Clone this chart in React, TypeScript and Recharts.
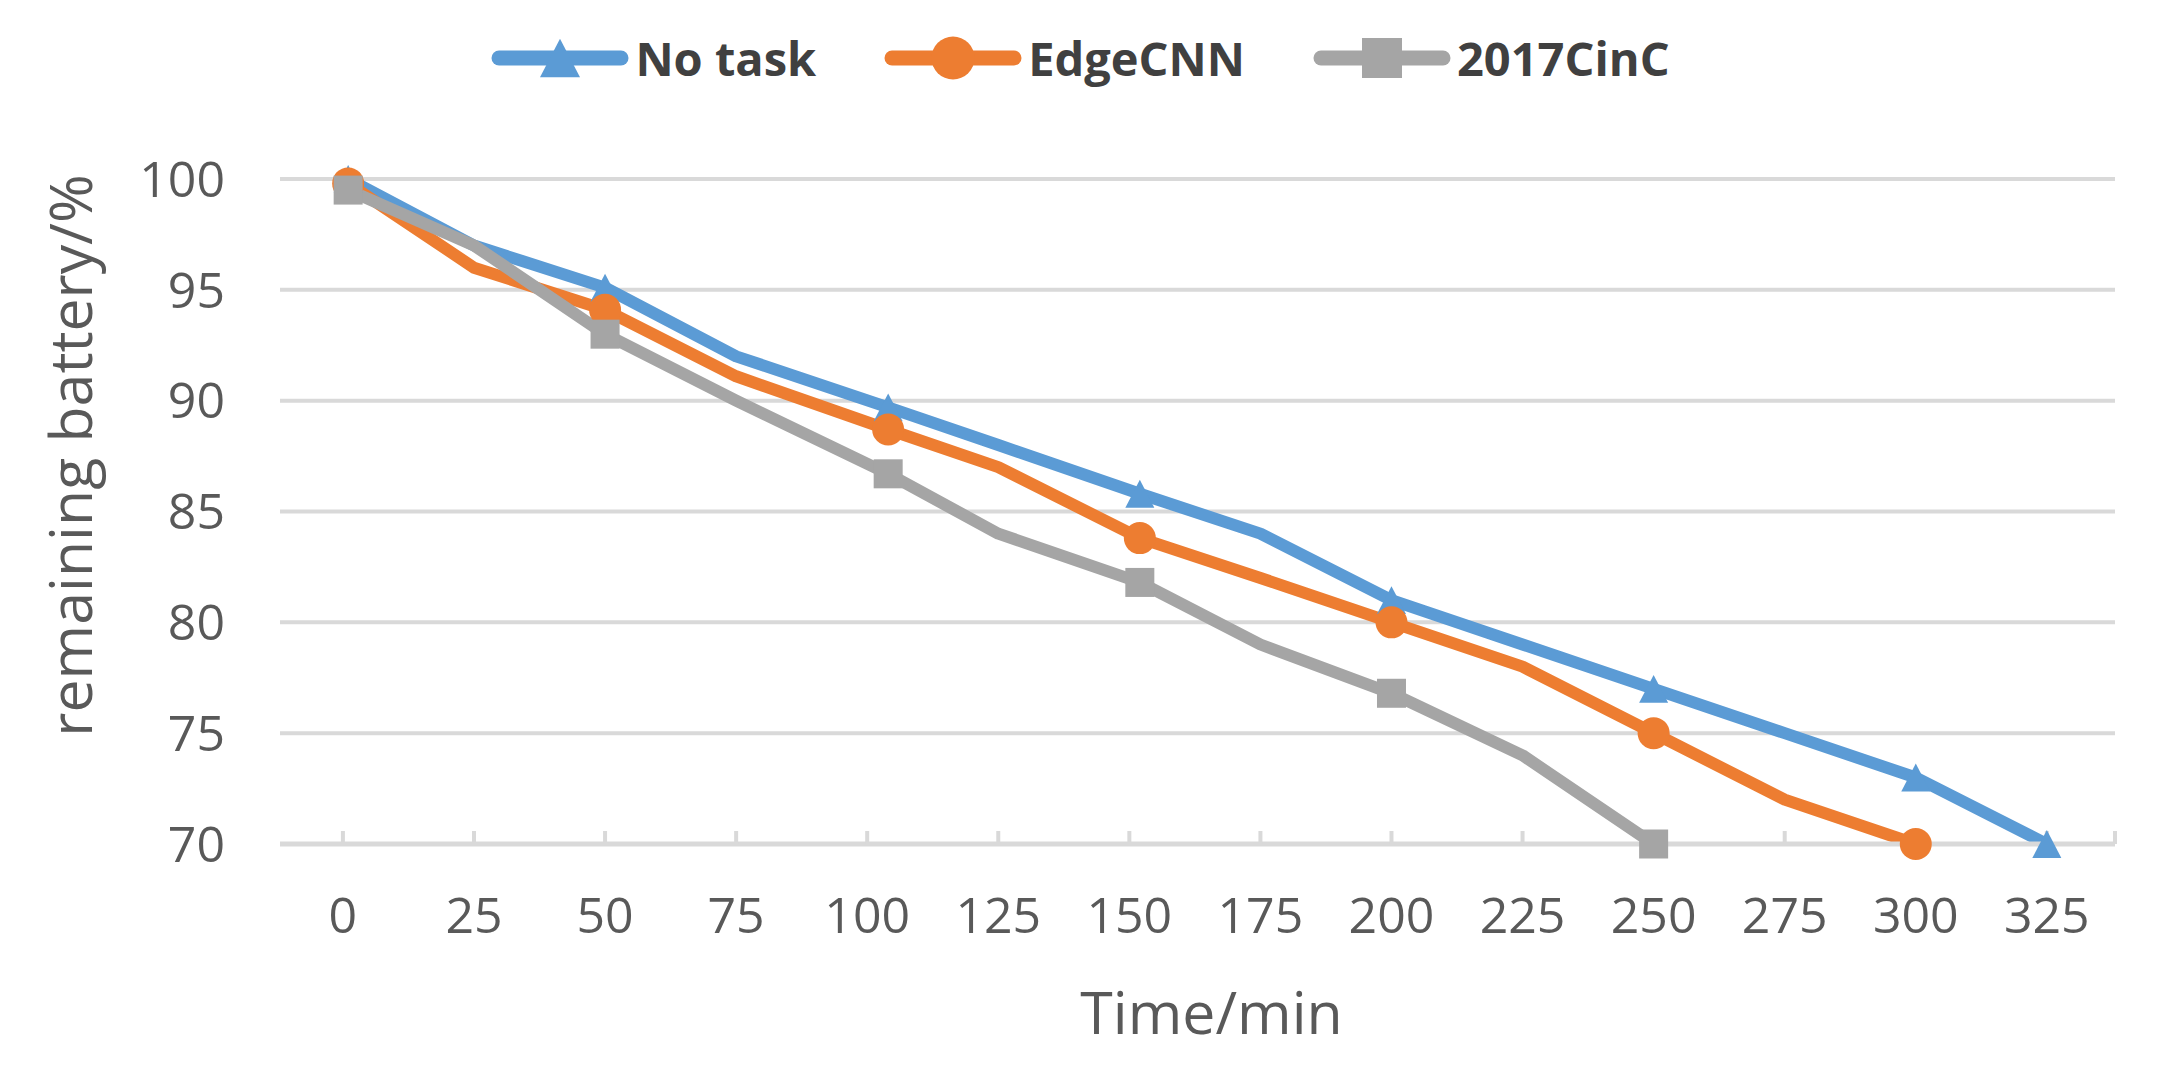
import { CartesianGrid, Legend, Line, LineChart, XAxis, YAxis } from "recharts";

// time (min) of each reading; the 100 / 150 readings sit a little late
const times = [1, 25, 50, 75, 104, 125, 152, 175, 200, 225, 250, 275, 300, 325];
const noTask = [100, 97, 95.1, 92, 89.7, 88, 85.8, 84, 81, 79, 77, 75, 73, 70];
const edgeCnn = [99.8, 96, 94.1, 91.1, 88.7, 87, 83.8, 82, 80, 78, 75, 72, 70, null];
const cinc2017 = [99.5, 97, 93, 90, 86.7, 84, 81.8, 79, 76.8, 74, 70, null, null, null];

const timeTicks = [0, 25, 50, 75, 100, 125, 150, 175, 200, 225, 250, 275, 300, 325];
const batteryTicks = [70, 75, 80, 85, 90, 95, 100];

const X_MIN = -12;
const X_MAX = 338;

const FONT = "'Open Sans', sans-serif";
const TEXT = "#595959";
const GRID = "#d9d9d9";

type Shape = "triangle" | "circle" | "square";

const series: { key: string; name: string; color: string; shape: Shape; values: (number | null)[] }[] = [
  { key: "noTask", name: "No task", color: "#5b9bd5", shape: "triangle", values: noTask },
  { key: "edgeCnn", name: "EdgeCNN", color: "#ed7d31", shape: "circle", values: edgeCnn },
  { key: "cinc", name: "2017CinC", color: "#a5a5a5", shape: "square", values: cinc2017 },
];

const data = times.map((t, i) => {
  const row: Record<string, number | null> = { t };
  series.forEach((s) => {
    row[s.key] = s.values[i];
  });
  return row;
});

function Marker({ cx, cy, shape, color, size }: { cx: number; cy: number; shape: Shape; color: string; size: number }) {
  if (shape === "triangle") {
    const w = size;
    const h = size * 0.96;
    return (
      <polygon
        points={`${cx},${cy - h / 2} ${cx + w / 2},${cy + h / 2} ${cx - w / 2},${cy + h / 2}`}
        fill={color}
      />
    );
  }
  if (shape === "circle") return <circle cx={cx} cy={cy} r={size / 2 + 1.5} fill={color} />;
  return <rect x={cx - size / 2} y={cy - size / 2} width={size} height={size} fill={color} />;
}

// markers only on every other reading plus the final one
function makeDot(s: (typeof series)[number]) {
  const last = s.values.reduce((acc: number, v, i) => (v == null ? acc : i), 0);
  return (props: any) => {
    const { cx, cy, index } = props;
    const k = `${s.key}-${index}`;
    if (s.values[index] == null || cx == null || cy == null) return <g key={k} />;
    if (index % 2 !== 0 && index !== last) return <g key={k} />;
    return (
      <g key={k}>
        <Marker cx={cx} cy={cy} shape={s.shape} color={s.color} size={29} />
      </g>
    );
  };
}

function LegendRow() {
  return (
    <div
      style={{
        display: "flex",
        justifyContent: "center",
        alignItems: "center",
        gap: 68,
        fontFamily: FONT,
        fontWeight: 700,
        fontSize: 47,
        lineHeight: "60px",
        color: "#404040",
      }}
    >
      {series.map((s) => (
        <div key={s.key} style={{ display: "flex", alignItems: "center", gap: 6 }}>
          <svg width={138} height={50}>
            <line x1={8} y1={25} x2={130} y2={25} stroke={s.color} strokeWidth={15} strokeLinecap="round" />
            <Marker cx={69} cy={25} shape={s.shape} color={s.color} size={40} />
          </svg>
          <span>{s.name}</span>
        </div>
      ))}
    </div>
  );
}

export default function App() {
  return (
    <div style={{ position: "absolute", left: 0, top: 0, width: 2161, height: 1081, background: "#fff" }}>
      <LineChart width={2161} height={1081} data={data} margin={{ top: 179, right: 46, bottom: 0, left: 0 }}>
        <CartesianGrid horizontal vertical={false} stroke={GRID} strokeWidth={4} />
        <XAxis
          type="number"
          dataKey="t"
          domain={[X_MIN, X_MAX]}
          ticks={[...timeTicks, X_MAX]}
          interval={0}
          allowDataOverflow
          height={237}
          axisLine={{ stroke: GRID, strokeWidth: 5 }}
          tickLine={{ stroke: GRID, strokeWidth: 4 }}
          tickSize={-13}
          tickMargin={66}
          tickFormatter={(v: number) => (timeTicks.includes(v) ? String(v) : "")}
          tick={{ fill: TEXT, fontSize: 50, fontFamily: FONT }}
          label={(p: any) => {
            const vb = p.viewBox;
            return (
              <text
                x={vb.x + vb.width / 2 + 14}
                y={vb.y + 190}
                textAnchor="middle"
                fill={TEXT}
                fontSize={59}
                fontFamily={FONT}
              >
                Time/min
              </text>
            );
          }}
        />
        <YAxis
          type="number"
          domain={[70, 100]}
          ticks={batteryTicks}
          interval={0}
          width={280}
          axisLine={false}
          tickLine={false}
          tickSize={53}
          tick={{ fill: TEXT, fontSize: 50, fontFamily: FONT }}
          label={(p: any) => {
            const vb = p.viewBox;
            const cx = 69;
            const cy = vb.y + vb.height / 2 - 56;
            return (
              <text
                x={cx}
                y={cy}
                transform={`rotate(-90 ${cx} ${cy})`}
                textAnchor="middle"
                dominantBaseline="central"
                fill={TEXT}
                fontSize={59}
                fontFamily={FONT}
              >
                remaining battery/%
              </text>
            );
          }}
        />
        <Legend
          verticalAlign="middle"
          align="center"
          layout="horizontal"
          wrapperStyle={{ top: 28, left: 0, width: 2161 }}
          content={() => <LegendRow />}
        />
        {series.map((s) => (
          <Line
            key={s.key}
            type="linear"
            dataKey={s.key}
            name={s.name}
            stroke={s.color}
            strokeWidth={12}
            strokeLinejoin="round"
            dot={makeDot(s)}
            activeDot={false}
            isAnimationActive={false}
          />
        ))}
      </LineChart>
    </div>
  );
}
